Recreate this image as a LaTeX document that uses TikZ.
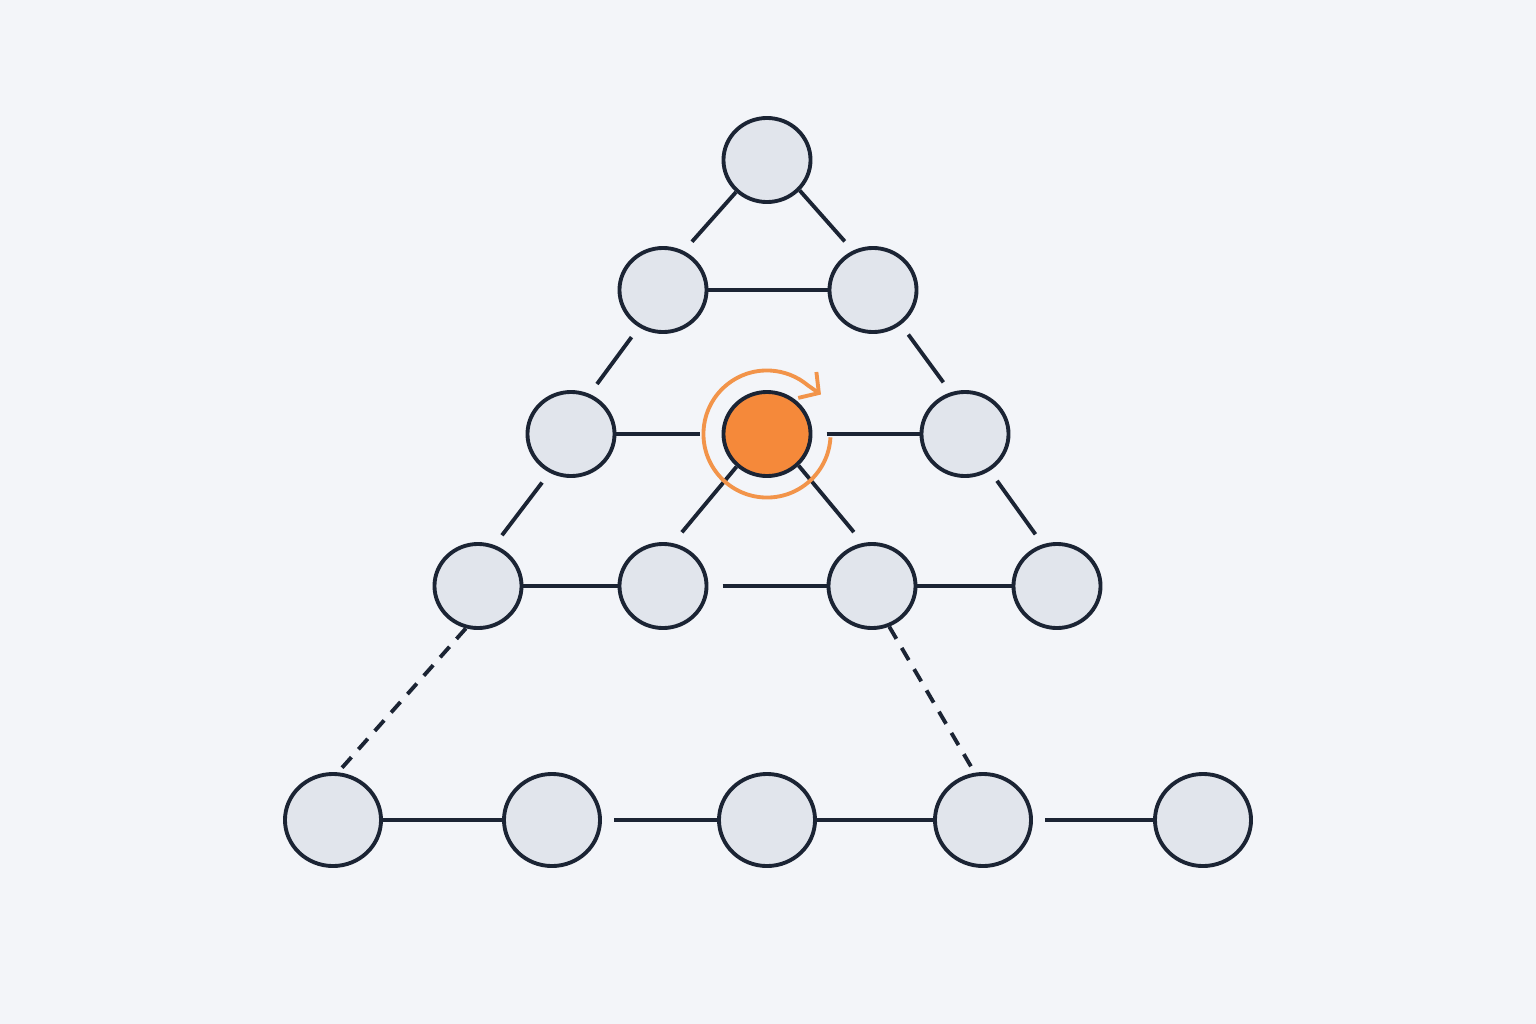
\documentclass[tikz,border=0pt]{standalone}
\usetikzlibrary{shapes.geometric, arrows.meta}
\definecolor{inkblue}{RGB}{27,36,52}
\definecolor{paleslate}{RGB}{225,229,236}
\definecolor{canvas}{RGB}{243,245,249}
\definecolor{pivotorange}{RGB}{245,137,58}
\definecolor{spinorange}{RGB}{242,148,74}

\begin{document}
\begin{tikzpicture}[x=0.01cm, y=-0.01cm,
  vert/.style={ellipse, draw=inkblue, fill=paleslate, line width=1.1pt,
    minimum width=0.87cm, minimum height=0.84cm, inner sep=0pt},
  wide/.style={minimum width=0.96cm, minimum height=0.92cm},
  link/.style={inkblue, line width=1.1pt},
  gapin/.style={shorten <=3.5pt},
  gapout/.style={shorten >=3.5pt}]

  \fill[canvas] (0,0) rectangle (1536,1024);
  \useasboundingbox (0,0) rectangle (1536,1024);

  \draw[]
   (767,160) node[vert](t) {}
   (663,290) node[vert](a1) {}
   (873,290) node[vert](a2) {}
   (571,434) node[vert](b1) {}
   (767,434) node[vert, fill=pivotorange](b2) {}
   (965,434) node[vert](b3) {}
   (478,586) node[vert](c1) {}
   (663,586) node[vert](c2) {}
   (872,586) node[vert](c3) {}
   (1057,586) node[vert](c4) {}
   (333,820) node[vert, wide](d1) {}
   (552,820) node[vert, wide](d2) {}
   (767,820) node[vert, wide](d3) {}
   (983,820) node[vert, wide](d4) {}
   (1203,820) node[vert, wide](d5) {};

  \draw[link]
   (t.-134) edge[gapout] (a1.62)
   (t.-43) edge[gapout] (a2.117)
   (a1) edge (a2)
   (a1.-123) edge[gapin, gapout] (b1.65)
   (a2.-51) edge[gapin, gapout] (b3.109)
   (b1) edge[shorten >=6pt] (b2)
   (b2) edge[shorten <=4pt] (b3)
   (b1.-119) edge[gapin, gapout] (c1.68)
   (b2.-133) edge[shorten >=4pt] (c2.77)
   (b2.-45) edge[shorten >=4pt] (c3.102)
   (b3.-56) edge[gapin, gapout] (c4.109)
   (c1) edge (c2)
   (c2) edge[shorten <=4pt] (c3)
   (c3) edge (c4)
   (d1) edge (d2)
   (d2) edge[gapin] (d3)
   (d3) edge (d4)
   (d4) edge[gapin] (d5);

  %jumps down to the bottom row
  \draw[link, dash pattern=on 4pt off 3pt]
   (c1.-106) edge (d1.84)
   (c3.-67) edge (d4.100);

  %turn marker
  \draw[spinorange, line width=1.1pt, -{Straight Barb[length=4pt, width=9pt]}]
   ([shift={(-3:0.635cm)}]b2.center) arc[start angle=-3, end angle=-310, radius=0.635cm]
   -- ++(-35:0.16cm);
\end{tikzpicture}
\end{document}
